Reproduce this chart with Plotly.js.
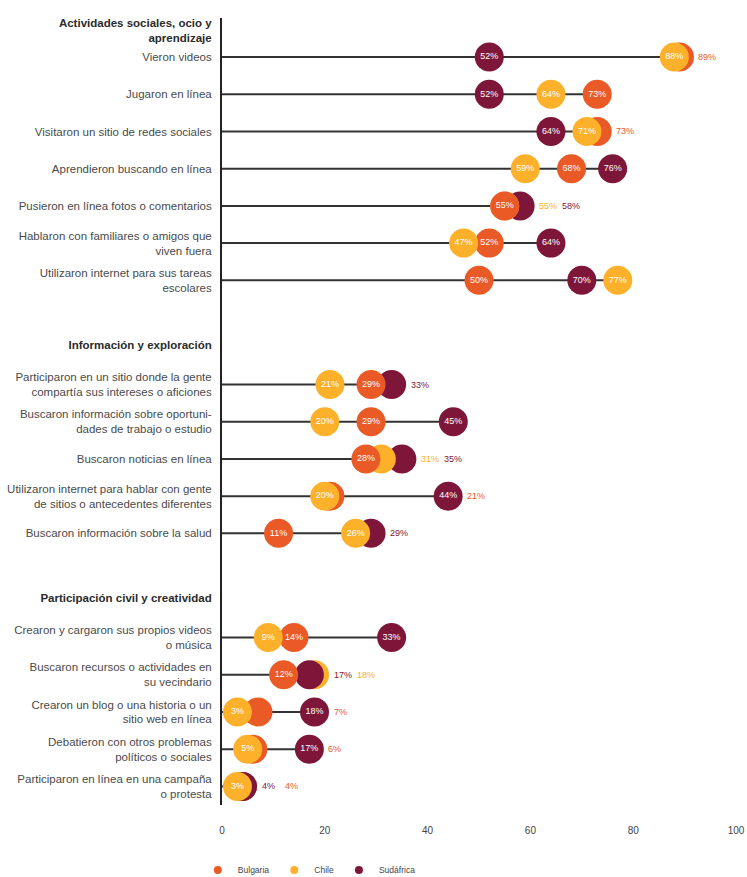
<!DOCTYPE html>
<html><head><meta charset="utf-8">
<script src="https://cdn.plot.ly/plotly-3.0.1.min.js"></script>
<style>body{margin:0;background:#fff}#chart{width:747px;height:877px}</style>
</head><body><div id="chart"></div>
<script>
const sections = ["Actividades sociales, ocio y<br>aprendizaje", "Información y exploración", "Participación civil y creatividad"];
const sectionSizes = [7, 5, 5];
const categories = [
  "Vieron videos",
  "Jugaron en línea",
  "Visitaron un sitio de redes sociales",
  "Aprendieron buscando en línea",
  "Pusieron en línea fotos o comentarios",
  "Hablaron con familiares o amigos que<br>viven fuera",
  "Utilizaron internet para sus tareas<br>escolares",
  "Participaron en un sitio donde la gente<br>compartía sus intereses o aficiones",
  "Buscaron información sobre oportuni-<br>dades de trabajo o estudio",
  "Buscaron noticias en línea",
  "Utilizaron internet para hablar con gente<br>de sitios o antecedentes diferentes",
  "Buscaron información sobre la salud",
  "Crearon y cargaron sus propios videos<br>o música",
  "Buscaron recursos o actividades en<br>su vecindario",
  "Crearon un blog o una historia o un<br>sitio web en línea",
  "Debatieron con otros problemas<br>políticos o sociales",
  "Participaron en línea en una campaña<br>o protesta"
];
const countries = ["Bulgaria", "Chile", "Sudáfrica"];
const bulgaria  = [89, 73, 73, 68, 55, 52, 50, 29, 29, 28, 21, 11, 14, 12, 7, 6, 4];
const chile     = [88, 64, 71, 59, 55, 47, 77, 21, 20, 31, 20, 26, 9, 18, 3, 5, 3];
const sudafrica = [52, 52, 64, 76, 58, 64, 70, 33, 45, 35, 44, 29, 33, 17, 18, 17, 4];
const xTicks = [0, 20, 40, 60, 80, 100];

const colors = {"Bulgaria": "#EA5A26", "Chile": "#FDB12B", "Sudáfrica": "#7D1638"};
const frontPriority = {"Sudáfrica": 0, "Bulgaria": 1, "Chile": 2};
const values = {"Bulgaria": bulgaria, "Chile": chile, "Sudáfrica": sudafrica};
const FONT = "'Liberation Sans', Arial, sans-serif";

// vertical layout (in row units)
const sectionGap = 2.8, headerOffset = 1.07, multiLineShift = 0.35;
const rowY = [], tickVals = [], tickText = [];
let y = 0, idx = 0;
sections.forEach((s, si) => {
  const lines = s.split('<br>').length;
  tickVals.push(y - headerOffset + multiLineShift * (lines - 1));
  tickText.push('<b><span style="color:#2b2b2b">' + s.replace('<br>', '</span></b><br><b><span style="color:#2b2b2b">') + '</span></b>');
  for (let k = 0; k < sectionSizes[si]; k++) {
    rowY.push(y);
    tickVals.push(y);
    tickText.push(categories[idx]);
    idx++;
    if (k < sectionSizes[si] - 1) y += 1;
  }
  y += sectionGap;
});

// connector lines
const lx = [], ly = [];
categories.forEach((c, i) => {
  const m = Math.max(bulgaria[i], chile[i], sudafrica[i]);
  lx.push(0, m, null); ly.push(rowY[i], rowY[i], null);
});

// dots (back to front), hidden labels moved outside
const px = [], py = [], pc = [], pt = [];
const annotations = [];
categories.forEach((c, i) => {
  const pts = countries.map(n => ({n, v: values[n][i]}));
  pts.sort((a, b) => a.v - b.v || frontPriority[a.n] - frontPriority[b.n]); // front first
  const hidden = pts.map((p, j) => j > 0 && (p.v - pts[j - 1].v) < 4.5);
  for (let j = pts.length - 2; j > 0; j--) {
    if (hidden[j + 1] && (pts[j].v - pts[j - 1].v) <= 5) hidden[j] = true;
  }
  const m = pts[pts.length - 1].v;
  let k = 0;
  pts.forEach((p, j) => {
    if (hidden[j]) {
      annotations.push({x: m, y: rowY[i], xref: 'x', yref: 'y', text: p.v + '%', showarrow: false,
        xanchor: 'left', xshift: 17 + k * 23, font: {family: FONT, size: 9, color: colors[p.n]}});
      k++;
    }
  });
  for (let j = pts.length - 1; j >= 0; j--) {
    const p = pts[j];
    px.push(p.v); py.push(rowY[i]); pc.push(colors[p.n]);
    pt.push(hidden[j] ? '' : p.v + '%');
  }
});

const traces = [
  {type: 'scatter', mode: 'lines', x: lx, y: ly, line: {color: '#333333', width: 2},
   showlegend: false, hoverinfo: 'skip', cliponaxis: false},
  {type: 'scatter', mode: 'markers+text', x: px, y: py, text: pt, textposition: 'middle center',
   textfont: {family: FONT, size: 9, color: '#ffffff'},
   marker: {size: 29, color: pc, opacity: 1}, showlegend: false, cliponaxis: false}
];
countries.forEach(n => traces.push({type: 'scatter', mode: 'markers', x: [null], y: [null], name: n,
  marker: {size: 8, color: colors[n]}}));

const layout = {
  width: 747, height: 877,
  margin: {l: 222, r: 11, t: 18, b: 72},
  paper_bgcolor: '#ffffff', plot_bgcolor: '#ffffff',
  font: {family: FONT, color: '#444444'},
  showlegend: true,
  legend: {orientation: 'h', x: -0.047, xanchor: 'left', yref: 'container', y: 0.008, yanchor: 'middle',
    font: {family: FONT, size: 8.5, color: '#444444'}},
  xaxis: {range: [0, 100], tickvals: xTicks, showgrid: false, zeroline: false, showline: false,
    ticks: '', ticklabelstandoff: 18, tickfont: {family: FONT, size: 10, color: '#444444'}, fixedrange: true},
  yaxis: {range: [20.1, -1.05], tickvals: tickVals, ticktext: tickText, showgrid: false, zeroline: false,
    showline: true, linecolor: '#222222', linewidth: 2, ticks: '', ticklabelstandoff: 6,
    tickfont: {family: FONT, size: 11.5, color: '#4a4a4a'}, fixedrange: true},
  annotations: annotations
};
Plotly.newPlot('chart', traces, layout, {displayModeBar: false, staticPlot: true});
</script></body></html>
